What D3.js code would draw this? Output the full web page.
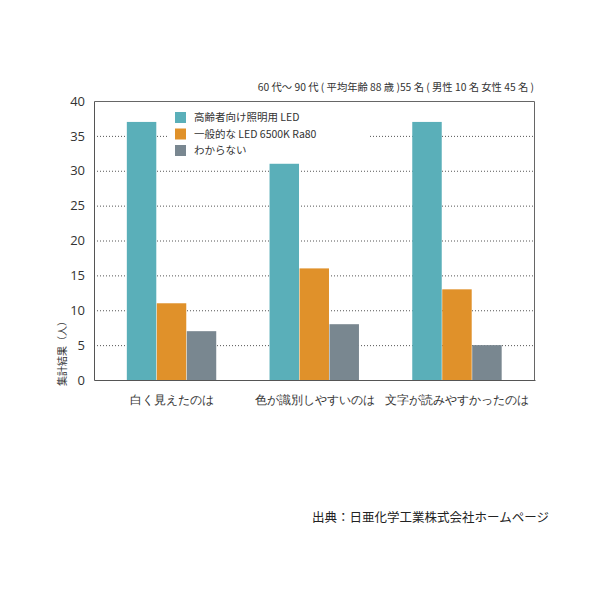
<!DOCTYPE html>
<html>
<head>
<meta charset="utf-8">
<style>
body { margin: 0; background: #ffffff; }
svg { font-family: "Noto Sans CJK JP", "Noto Sans", sans-serif; }
.axis path, .axis line { stroke: #555; }
.grid line { stroke: #555; stroke-dasharray: 1,2; }
</style>
</head>
<body>
<svg width="598" height="598"></svg>
<script src="https://d3js.org/d3.v7.min.js"></script>
<script>
var categories = ["白く見えたのは", "色が識別しやすいのは", "文字が読みやすかったのは"];
var seriesNames = ["高齢者向け照明用 LED", "一般的な LED 6500K Ra80", "わからない"];
var seriesColors = ["#5aafb9", "#e0912a", "#798790"];
var elderlyLed = [37, 31, 37];
var generalLed = [11, 16, 13];
var unknown = [7, 8, 5];
var yTicks = [0, 5, 10, 15, 20, 25, 30, 35, 40];

var values = [elderlyLed, generalLed, unknown];

var svg = d3.select("svg"),
    margin = {top: 101, left: 94},
    width = 441,
    height = 279,
    g = svg.append("g").attr("transform", "translate(" + margin.left + "," + margin.top + ")");

var x0 = d3.scaleBand().domain(categories).range([0, width])
    .paddingInner(0.37).paddingOuter(0.23);
var x1 = d3.scaleBand().domain(d3.range(seriesNames.length)).range([0, x0.bandwidth()]);
var y = d3.scaleLinear().domain([0, 40]).range([height, 0]);

// dotted grid lines
g.append("g")
    .attr("class", "grid")
  .selectAll("line")
  .data(yTicks.filter(function(d) { return d > 0 && d < 40; }))
  .enter().append("line")
    .attr("x1", 0).attr("x2", width)
    .attr("y1", function(d) { return y(d) + 0.5; })
    .attr("y2", function(d) { return y(d) + 0.5; });

// bars
g.append("g")
  .selectAll("g")
  .data(categories)
  .enter().append("g")
    .attr("transform", function(d) { return "translate(" + x0(d) + ",0)"; })
  .selectAll("rect")
  .data(function(d, i) { return values.map(function(s, k) { return {k: k, v: s[i]}; }); })
  .enter().append("rect")
    .attr("x", function(d) { return x1(d.k); })
    .attr("y", function(d) { return y(d.v); })
    .attr("width", x1.bandwidth() - 0.5)
    .attr("height", function(d) { return height - y(d.v); })
    .attr("fill", function(d) { return seriesColors[d.k]; });

// frame (top and right)
g.append("path")
    .attr("d", "M0.5,0.5H" + (width - 0.5) + "V" + height)
    .attr("fill", "none")
    .attr("stroke", "#666");

// legend with white box
var legend = g.append("g").attr("transform", "translate(73,4)");
legend.append("rect")
    .attr("x", 0).attr("y", 0)
    .attr("width", 201).attr("height", 56)
    .attr("fill", "#fff");
var item = legend.selectAll("g.item")
  .data(seriesNames)
  .enter().append("g")
    .attr("class", "item")
    .attr("transform", function(d, i) { return "translate(8," + (7 + i * 16.5) + ")"; });
item.append("rect")
    .attr("width", 11).attr("height", 11)
    .attr("fill", function(d, i) { return seriesColors[i]; });
item.append("text")
    .attr("x", 19).attr("y", 5.5)
    .attr("dy", "0.35em")
    .attr("font-size", 10.5)
    .attr("fill", "#333")
    .text(function(d) { return d; });

// axes
var yAxis = g.append("g")
    .attr("class", "axis")
    .call(d3.axisLeft(y).tickValues(yTicks).tickSize(0).tickPadding(9));
yAxis.select(".domain").attr("stroke", "#555");
yAxis.selectAll("text").attr("font-size", 13).attr("fill", "#333")
    .attr("font-family", "'Open Sans', 'Noto Sans', sans-serif");

var xAxis = g.append("g")
    .attr("class", "axis")
    .attr("transform", "translate(0," + height + ")")
    .call(d3.axisBottom(x0).tickSize(0).tickPadding(16));
xAxis.select(".domain").attr("stroke", "#555");
xAxis.selectAll("text").attr("font-size", 11.5).attr("fill", "#333");

// y axis title
svg.append("text")
    .attr("transform", "translate(66,386) rotate(-90)")
    .attr("text-anchor", "start")
    .attr("font-size", 10)
    .attr("fill", "#333")
    .text("集計結果（人）");

// subtitle
svg.append("text")
    .attr("x", 534).attr("y", 91)
    .attr("text-anchor", "end")
    .attr("font-size", 10.3)
    .attr("fill", "#333")
    .text("60 代～ 90 代 ( 平均年齢 88 歳 )55 名 ( 男性 10 名 女性 45 名 )");

// source
svg.append("text")
    .attr("x", 549).attr("y", 522)
    .attr("text-anchor", "end")
    .attr("font-size", 12.5)
    .attr("fill", "#222")
    .text("出典：日亜化学工業株式会社ホームページ");
</script>
</body>
</html>
